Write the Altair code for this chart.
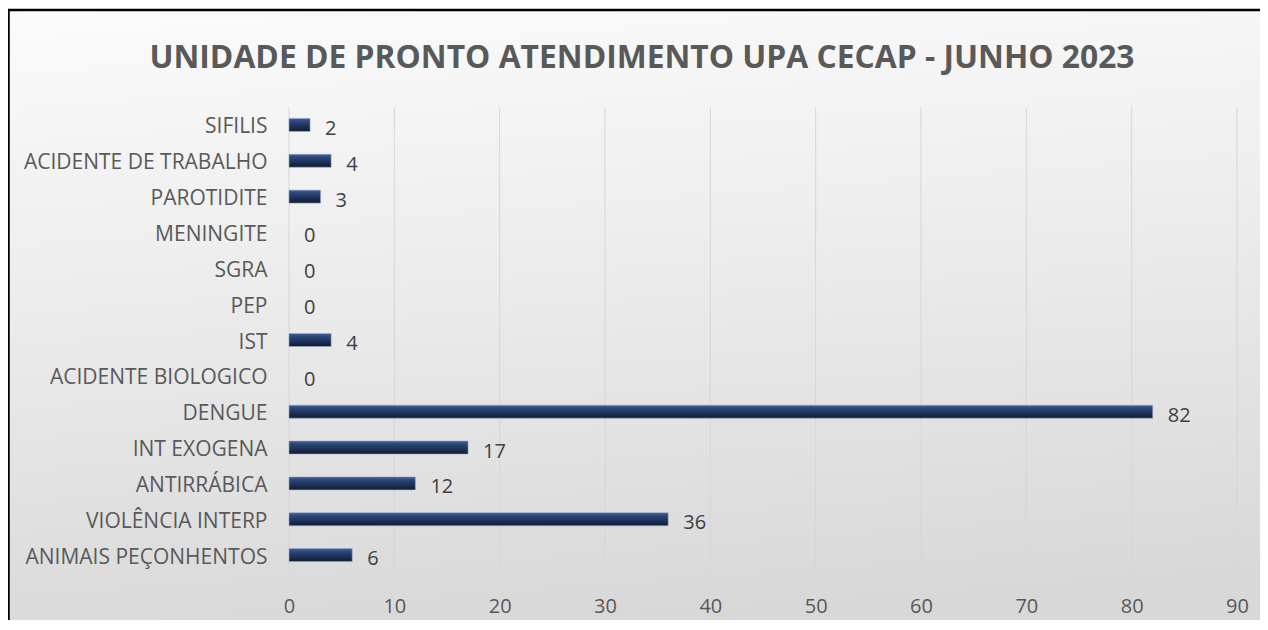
import altair as alt
import pandas as pd

categories = ["SIFILIS", "ACIDENTE DE TRABALHO", "PAROTIDITE", "MENINGITE", "SGRA", "PEP",
              "IST", "ACIDENTE BIOLOGICO", "DENGUE", "INT EXOGENA", "ANTIRRÁBICA",
              "VIOLÊNCIA INTERP", "ANIMAIS PEÇONHENTOS"]
values = [2, 4, 3, 0, 0, 0, 4, 0, 82, 17, 12, 36, 6]
x_ticks = [0, 10, 20, 30, 40, 50, 60, 70, 80, 90]
title_text = ["UNIDADE DE PRONTO ATENDIMENTO UPA CECAP - JUNHO 2023"]

W, H = 948, 466
PL, PT, PR, PB = 281, 99, 23, 47
FONT = "Open Sans"

df = pd.DataFrame({"cat": categories, "val": values})
ticks_df = pd.DataFrame({"t": x_ticks})

x_scale = alt.Scale(domain=[0, 90], nice=False)

bg = alt.Chart(pd.DataFrame({"k": [0]})).mark_rect(
    fill=alt.Gradient(
        gradient="linear",
        stops=[alt.GradientStop(color="#fbfbfb", offset=0),
               alt.GradientStop(color="#ececec", offset=0.45),
               alt.GradientStop(color="#d8d8d8", offset=1)],
        x1=0, y1=0, x2=0.15, y2=1),
    stroke="#000000", strokeWidth=2.5,
).encode(
    x=alt.value(-PL + 0.5), x2=alt.value(W + PR + 30),
    y=alt.value(-PT + 2), y2=alt.value(H + PB + 30),
)

grid = alt.Chart(ticks_df).mark_rule(color="#d6d6d6", strokeWidth=1).encode(
    x=alt.X("t:Q", scale=x_scale),
    y=alt.value(0), y2=alt.value(H),
)

x_enc = alt.X("val:Q", scale=x_scale,
              axis=alt.Axis(values=x_ticks, title=None, domain=False, ticks=False,
                            grid=False, zindex=1, labelFlush=False,
                            labelFont=FONT, labelFontSize=20, labelColor="#595959",
                            labelPadding=23))
y_enc = alt.Y("cat:N", sort=categories,
              scale=alt.Scale(paddingInner=0.637, paddingOuter=0.3185),
              axis=alt.Axis(title=None, domain=False, ticks=False, grid=False, zindex=1,
                            labelFont=FONT, labelFontSize=21, labelColor="#595959",
                            labelPadding=22, labelLimit=400, labelOffset=2.5))

bars = alt.Chart(df).mark_bar(
    color=alt.Gradient(
        gradient="linear",
        stops=[alt.GradientStop(color="#41609a", offset=0),
               alt.GradientStop(color="#2a4678", offset=0.25),
               alt.GradientStop(color="#1d3158", offset=0.6),
               alt.GradientStop(color="#111b33", offset=1)],
        x1=0, y1=0, x2=0, y2=1),
    stroke="#9eabc4", strokeWidth=0.6,
).encode(
    x=x_enc, y=y_enc,
    strokeOpacity=alt.condition("datum.val > 0", alt.value(1), alt.value(0)),
)

labels = alt.Chart(df).mark_text(
    align="left", baseline="middle", dx=15, dy=4,
    font=FONT, fontSize=20, color="#404040",
).encode(x="val:Q", y=alt.Y("cat:N", sort=categories), text="val:Q")

title = alt.Chart(pd.DataFrame({"t": title_text})).mark_text(
    align="center", baseline="alphabetic", font=FONT, fontSize=31.8,
    fontWeight="bold", color="#595959",
).encode(x=alt.value(353), y=alt.value(-39), text="t:N")

chart = alt.layer(bg, grid, bars, labels, title).properties(
    width=W, height=H,
    autosize=alt.AutoSizeParams(type="none"),
    padding={"left": PL, "top": PT, "right": PR, "bottom": PB},
).configure_view(stroke=None).configure(background="#ffffff")

chart.save("out.html", embed_options={"renderer": "svg", "actions": False})
